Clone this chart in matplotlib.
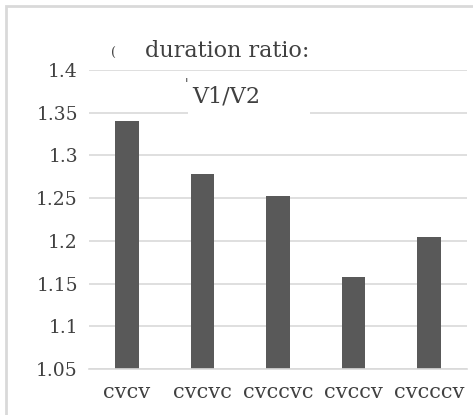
import matplotlib.pyplot as plt
from matplotlib.patches import Rectangle

# syllable structure categories and the V1/V2 duration ratio
categories = ["cvcv", "cvcvc", "cvccvc", "cvccv", "cvcccv"]
ratios = [1.340, 1.278, 1.252, 1.158, 1.204]
yticks = [1.05, 1.1, 1.15, 1.2, 1.25, 1.3, 1.35, 1.4]
ytick_labels = ["1.05", "1.1", "1.15", "1.2", "1.25", "1.3", "1.35", "1.4"]

plt.rcParams["font.family"] = ["DejaVu Serif"]

W, H = 473, 415
fig = plt.figure(figsize=(W / 100, H / 100), dpi=100)

# light frame of the chart area (cropped on the right and bottom)
fig.patches.append(Rectangle((6 / W, -0.1), 1.2, 1 - 6 / H + 0.1,
                             transform=fig.transFigure, fill=False,
                             edgecolor="#d9d9d9", linewidth=2))

ax = fig.add_axes([89 / W, 1 - 369 / H, (467 - 89) / W, (369 - 70) / H])
ax.bar(range(len(categories)), ratios, width=0.31, color="#595959", zorder=2)
ax.set_xlim(-0.5, len(categories) - 0.5)
ax.set_ylim(1.05, 1.4)
ax.set_yticks(yticks)
ax.set_yticklabels(ytick_labels)
ax.set_xticks(range(len(categories)))
ax.set_xticklabels(categories)
ax.tick_params(axis="y", length=0, pad=8, labelsize=13.5, colors="#404040")
ax.tick_params(axis="x", length=0, pad=10, labelsize=15, colors="#404040")
ax.grid(axis="y", color="#d9d9d9", linewidth=1.2, zorder=0)
for s in ax.spines.values():
    s.set_visible(False)
ax.spines["bottom"].set_visible(True)
ax.spines["bottom"].set_color("#d9d9d9")
ax.spines["bottom"].set_linewidth(1.2)

# title box, partly covering the gridline below it
fig.patches.append(Rectangle((188 / W, 1 - 116 / H), 122 / W, 30 / H,
                             transform=fig.transFigure, facecolor="white",
                             edgecolor="none", zorder=3))
fig.text(145 / W, 1 - 57 / H, "duration ratio:", fontsize=16,
         color="#404040", va="baseline", ha="left")
fig.text(192 / W, 1 - 102 / H, "V1/V2", fontsize=16,
         color="#404040", va="baseline", ha="left", zorder=4)
fig.text(111 / W, 1 - 57 / H, "(", fontsize=9, color="#404040",
         va="baseline", ha="left")
fig.text(185 / W, 1 - 88 / H, "'", fontsize=9, color="#404040",
         va="baseline", ha="left", zorder=4)

fig.savefig("out.png", dpi=100)
